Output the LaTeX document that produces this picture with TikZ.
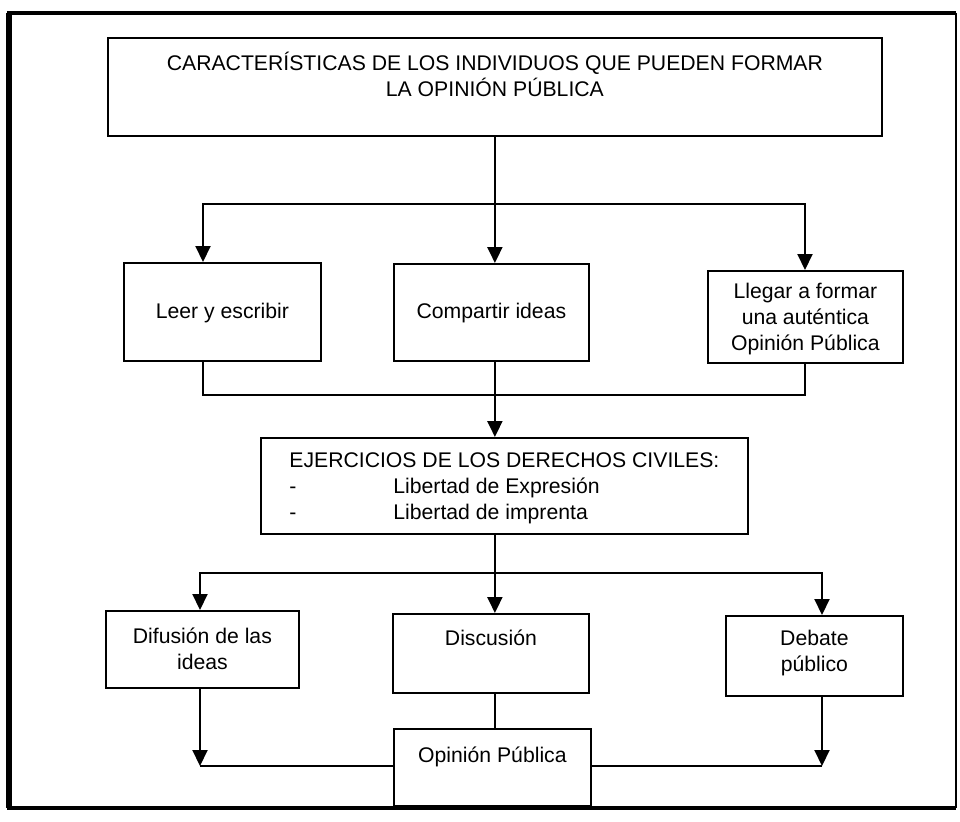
\documentclass[tikz,border=0pt]{standalone}
\usepackage{fontspec}
\setmainfont{Liberation Sans}
\usetikzlibrary{arrows.meta,positioning,calc}

\begin{document}
\begin{tikzpicture}[x=0.5pt,y=-0.5pt,font=\fontsize{10.6}{13}\selectfont,
    caja/.style={draw,line width=0.9pt,inner sep=0pt,align=center,anchor=north west},
    linea/.style={line width=1pt},
    flecha/.style={line width=1pt,-{Triangle[width=7.5pt,length=8pt]}},
    flechas/.style={line width=1pt,{Triangle[width=7.5pt,length=8pt]}-{Triangle[width=7.5pt,length=8pt]}}]
  \useasboundingbox (0,0) rectangle (960,821);
  % marco
  \draw[line width=1.6pt] (956,13) -- (9,13) -- (9,808) -- (956,808);
  \draw[line width=0.9pt] (956,13) -- (956,808);
  \draw[line width=2.6pt] (9,13) -- (9,808);
  % cajas
  \node[caja,minimum width=387pt,text height=29.5pt,text depth=19.5pt] (carac) at (107,37)
    {CARACTERÍSTICAS DE LOS INDIVIDUOS QUE PUEDEN FORMAR\\ LA OPINIÓN PÚBLICA};
  \node[caja,minimum width=98.5pt,text height=28pt,text depth=21pt] (leer) at (123,262)
    {Leer y escribir};
  \node[caja,minimum width=97.5pt,text height=27.5pt,text depth=21pt] (comp) at (393,263)
    {Compartir ideas};
  \node[caja,minimum width=97.5pt,text height=40pt,text depth=6pt] (lleg) at (707,270)
    {Llegar a formar\\ una auténtica\\ Opinión Pública};
  \node[caja,align=left,minimum width=243.5pt,text height=41pt,text depth=7pt] (ejer) at (260,437)
    {EJERCICIOS DE LOS DERECHOS CIVILES:\\
     \makebox[52pt][l]{-}Libertad de Expresión\\
     \makebox[52pt][l]{-}Libertad de imprenta};
  \node[caja,minimum width=96.5pt,text height=29.5pt,text depth=9pt] (difu) at (105,610)
    {Difusión de las\\ ideas};
  \node[caja,minimum width=98pt,text height=16pt,text depth=23.5pt] (disc) at (392,613)
    {Discusión};
  \node[caja,minimum width=88.5pt,text height=28pt,text depth=12pt] (deba) at (725,615)
    {Debate\\ público};
  \node[caja,minimum width=98.5pt,text height=17pt,text depth=21.5pt] (opin) at (393,728)
    {Opinión Pública};
  % conectores
  \coordinate (rI) at (203,204); \coordinate (rD) at (805,204);
  \coordinate (sI) at (203,395); \coordinate (sD) at (805,395);
  \coordinate (tI) at (200,573); \coordinate (tD) at (822,573);
  \coordinate (uI) at (200,766); \coordinate (uD) at (822,766);
  \draw[flecha] (carac.south) -- (carac.south |- comp.north);
  \draw[flechas] (rI |- leer.north) -- (rI) -- (rD) -- (rD |- lleg.north);
  \draw[linea] (sI |- leer.south) -- (sI) -- (sD) -- (sD |- lleg.south);
  \draw[flecha] (carac.south |- comp.south) -- (carac.south |- ejer.north);
  \draw[flecha] (carac.south |- ejer.south) -- (carac.south |- disc.north);
  \draw[flechas] (tI |- difu.north) -- (tI) -- (tD) -- (tD |- deba.north);
  \draw[linea] (carac.south |- disc.south) -- (carac.south |- opin.north);
  \draw[flecha] (uI |- difu.south) -- (uI);
  \draw[linea] (uI) -- (uI -| opin.west);
  \draw[flecha] (uD |- deba.south) -- (uD);
  \draw[linea] (uD) -- (uD -| opin.east);
\end{tikzpicture}
\end{document}
